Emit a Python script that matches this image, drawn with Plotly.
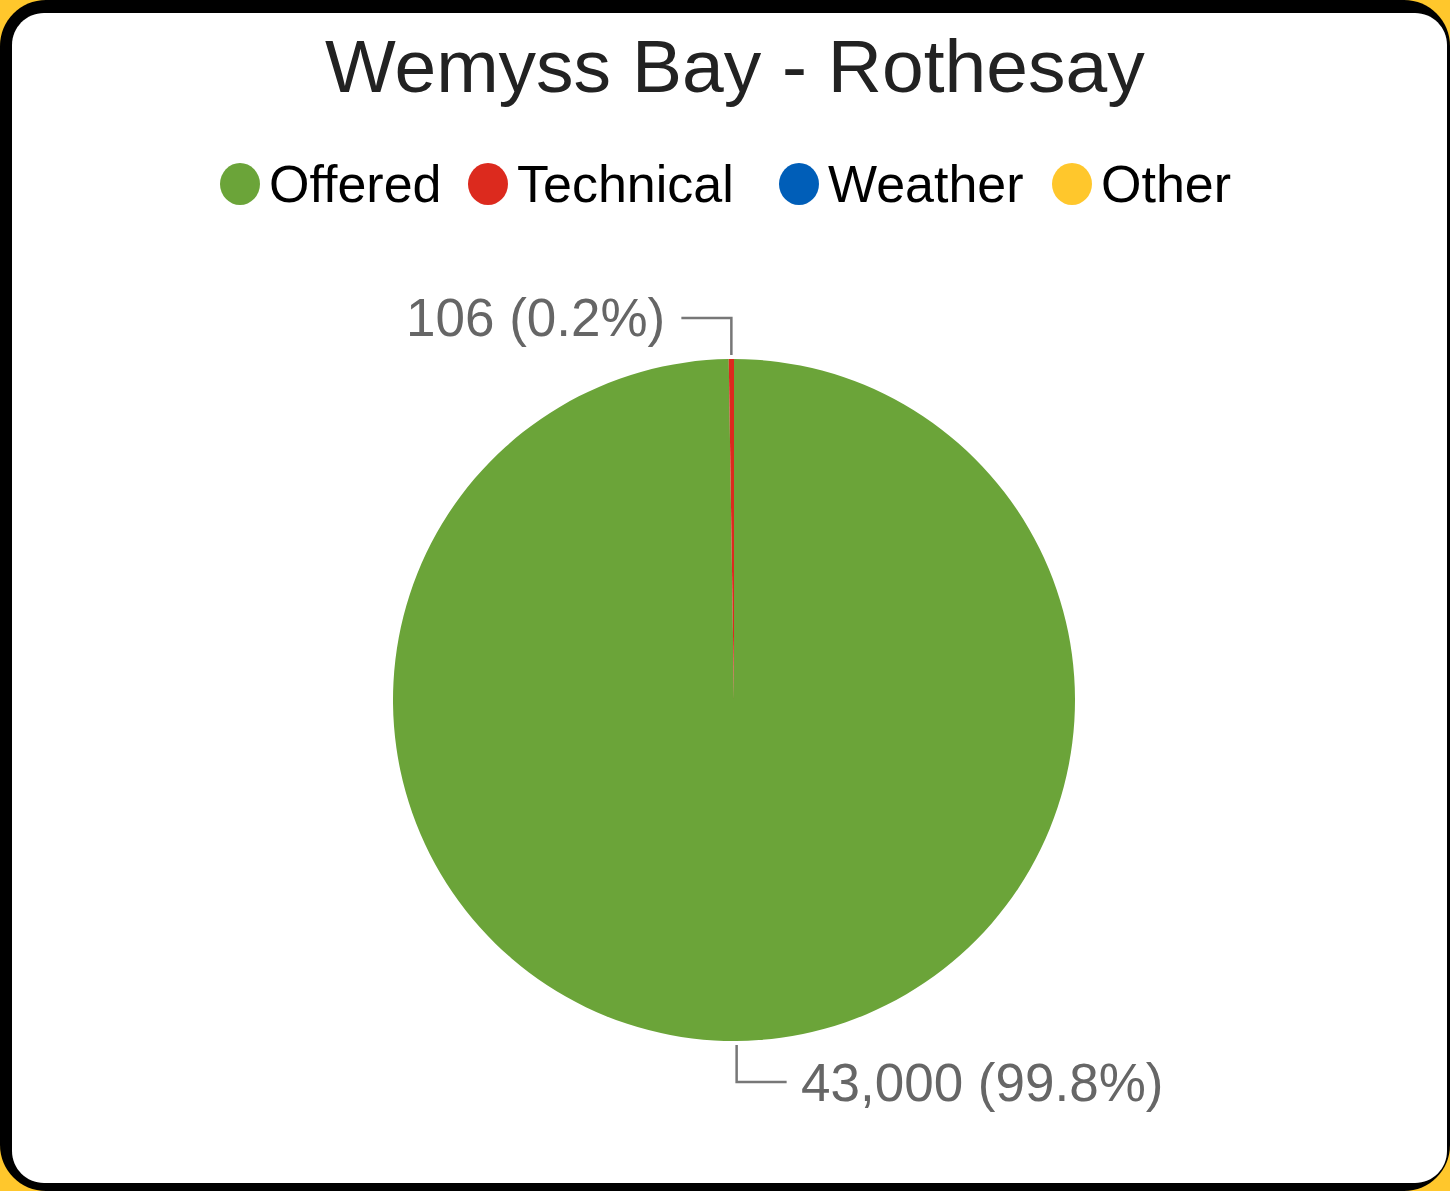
import math
import plotly.graph_objects as go

# ---------------- data ----------------
categories = ["Offered", "Technical", "Weather", "Other"]
values = [43000, 106, 0, 0]
colors = ["#6BA439", "#DC2A1E", "#005EB8", "#FFC72C"]
title_text = "Wemyss Bay - Rothesay"

# ---------------- layout constants (pixels) ----------------
W, H = 1450, 1191
PIE_CX, PIE_CY, PIE_R = 734, 700, 341
LEGEND_Y = 184
LEGEND_LEFT = [220, 468, 779, 1052]
FONT = "Arial, Liberation Sans, sans-serif"


def px(x):
    return x / W


def py(y):
    return 1 - y / H


def rounded_path(x0, y0, x1, y1, r):
    k = 0.5523 * r
    P = lambda x, y: f"{px(x):.5f},{py(y):.5f}"
    return (
        f"M {P(x0 + r, y0)} L {P(x1 - r, y0)} "
        f"C {P(x1 - r + k, y0)} {P(x1, y0 + r - k)} {P(x1, y0 + r)} "
        f"L {P(x1, y1 - r)} "
        f"C {P(x1, y1 - r + k)} {P(x1 - r + k, y1)} {P(x1 - r, y1)} "
        f"L {P(x0 + r, y1)} "
        f"C {P(x0 + r - k, y1)} {P(x0, y1 - r + k)} {P(x0, y1 - r)} "
        f"L {P(x0, y0 + r)} "
        f"C {P(x0, y0 + r - k)} {P(x0 + r - k, y0)} {P(x0 + r, y0)} Z"
    )


fig = go.Figure()
fig.add_trace(
    go.Pie(
        labels=categories,
        values=values,
        marker=dict(colors=colors, line=dict(width=0)),
        sort=False,
        direction="clockwise",
        rotation=0,
        textinfo="none",
        showlegend=False,
        domain=dict(
            x=[px(PIE_CX - PIE_R), px(PIE_CX + PIE_R)],
            y=[py(PIE_CY + PIE_R), py(PIE_CY - PIE_R)],
        ),
    )
)

shapes = [
    dict(type="path", xref="paper", yref="paper", layer="below",
         path=rounded_path(0, 0, W, H, 46), fillcolor="#000000", line=dict(width=0)),
    dict(type="path", xref="paper", yref="paper", layer="below",
         path=rounded_path(12, 13, W - 3, H - 8, 32), fillcolor="#FFFFFF", line=dict(width=0)),
]
annotations = [
    dict(text=title_text, x=px(735), y=py(66), xref="paper", yref="paper",
         xanchor="center", yanchor="middle", showarrow=False,
         font=dict(family=FONT, size=75, color="#222222")),
]

# manual legend with circular symbols
for name, col, left in zip(categories, colors, LEGEND_LEFT):
    shapes.append(dict(type="circle", xref="paper", yref="paper", layer="above",
                       x0=px(left), x1=px(left + 40), y0=py(LEGEND_Y + 21), y1=py(LEGEND_Y - 21),
                       fillcolor=col, line=dict(width=0)))
    annotations.append(dict(text=name, x=px(left + 47), y=py(LEGEND_Y), xref="paper", yref="paper",
                            xanchor="left", yanchor="middle", showarrow=False,
                            font=dict(family=FONT, size=52, color="#000000")))

# value labels with elbow leader lines
total = sum(values)
cum = 0
for v in values:
    if v <= 0:
        continue
    mid = math.radians((cum + v / 2) / total * 360)
    cum += v
    ex = PIE_CX + PIE_R * math.sin(mid)
    up = math.cos(mid) > 0
    sgn = -1 if up else 1
    ey = PIE_CY + sgn * (PIE_R + 4)
    ky = PIE_CY + sgn * (PIE_R + 41)
    left = math.sin(mid) < 0
    hx = ex + (-50 if left else 50)
    path = f"M {px(ex):.5f},{py(ey):.5f} L {px(ex):.5f},{py(ky):.5f} L {px(hx):.5f},{py(ky):.5f}"
    shapes.append(dict(type="path", xref="paper", yref="paper", layer="above", path=path,
                       line=dict(color="#777777", width=2.5)))
    label = f"{v:,} ({v / total * 100:.1f}%)"
    annotations.append(dict(text=label, x=px(hx + (-14 if left else 12)), y=py(ky),
                            xref="paper", yref="paper",
                            xanchor="right" if left else "left", yanchor="middle",
                            showarrow=False,
                            font=dict(family=FONT, size=53, color="#666666")))

fig.update_layout(
    width=W,
    height=H,
    margin=dict(l=0, r=0, t=0, b=0),
    paper_bgcolor="#FFC72C",
    plot_bgcolor="#FFC72C",
    shapes=shapes,
    annotations=annotations,
    showlegend=False,
)

fig.write_html(
    "out.html",
    config={"displayModeBar": False},
    post_script="document.body.style.margin='0';document.body.style.overflow='hidden';",
)
